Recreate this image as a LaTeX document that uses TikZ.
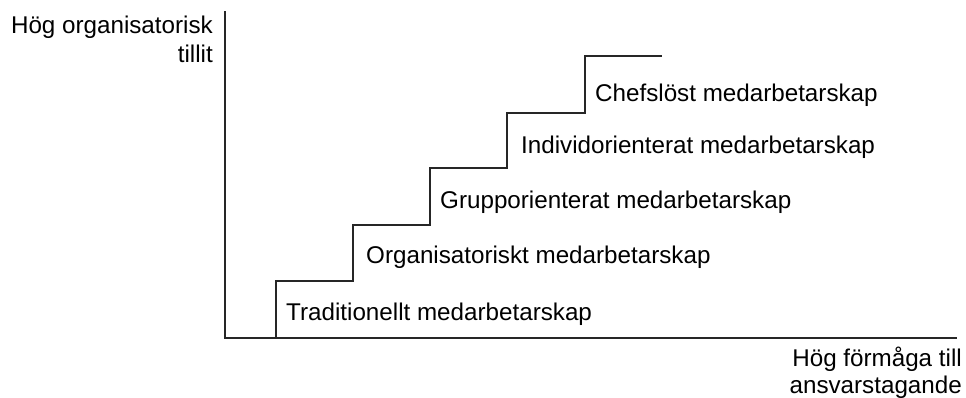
\documentclass[tikz,border=0pt]{standalone}
\usepackage{fontspec}
\setmainfont{Liberation Sans}
\begin{document}
\begin{tikzpicture}[x=1pt,y=-1pt,
  axis/.style={line width=1.8pt,black!85},
  stair/.style={line width=1.4pt,black!85},
  txt/.style={inner sep=0pt,font=\fontsize{24.2}{29}\selectfont},
  steplabel/.style={txt,anchor=base west}]
  \useasboundingbox (0,0) rectangle (966,397);

  % axes
  \coordinate (O)    at (225,338);
  \coordinate (ytop) at (225,11);
  \coordinate (xend) at (957,338);
  \draw[axis] (ytop) -- (O) -- (xend);

  \draw (213,33)  node (ylab1) [txt,anchor=base east] {Hög organisatorisk};
  \draw (213,62)  node (ylab2) [txt,anchor=base east] {tillit};
  \draw (962,366) node (xlab1) [txt,anchor=base east] {Hög förmåga till};
  \draw (962,393) node (xlab2) [txt,anchor=base east] {ansvarstagande};

  % staircase
  \coordinate (s0) at (276,338);
  \coordinate (s1) at (353,281);
  \coordinate (s2) at (430,225);
  \coordinate (s3) at (507,168);
  \coordinate (s4) at (585,113);
  \coordinate (s5) at (662,56);
  \draw[stair] (s0) |- (s1) |- (s2) |- (s3) |- (s4) |- (s5);

  \draw (286,320) node (trad) [steplabel] {Traditionellt medarbetarskap};
  \draw (366,263) node (org)  [steplabel] {Organisatoriskt medarbetarskap};
  \draw (440,208) node (grp)  [steplabel] {Grupporienterat medarbetarskap};
  \draw (521,153) node (ind)  [steplabel] {Individorienterat medarbetarskap};
  \draw (595,101) node (chef) [steplabel] {Chefslöst medarbetarskap};
\end{tikzpicture}
\end{document}
